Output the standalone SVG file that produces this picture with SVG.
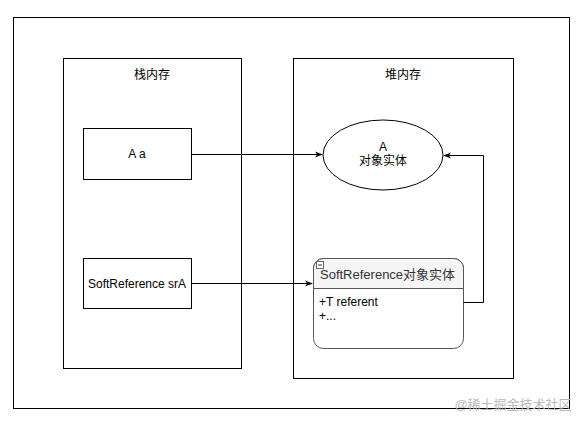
<svg xmlns="http://www.w3.org/2000/svg" width="583" height="425" viewBox="0 0 583 425">
<style>
.box{fill:#fff;stroke:#000;stroke-width:1}
.t{font-family:"Liberation Sans","Noto Sans CJK SC",Arial,sans-serif;font-size:12px;fill:#000}
.c{stroke:#000;stroke-width:1;fill:none}
</style>
<defs>
<marker id="ah" viewBox="0 0 10 10" refX="9" refY="5" markerWidth="8" markerHeight="8" orient="auto" markerUnits="userSpaceOnUse">
<path d="M0,1 L10,5 L0,9 L3,5 Z" fill="#000"/>
</marker>
</defs>
<rect width="583" height="425" fill="#fff"/>
<g id="outer"><rect class="box" x="13.5" y="17.5" width="556" height="391"/></g>
<g id="stack"><rect class="box" x="63.5" y="58.5" width="178" height="310"/><text class="t" x="152" y="79" text-anchor="middle">栈内存</text></g>
<g id="heap"><rect class="box" x="293.5" y="58.5" width="220" height="320"/><text class="t" x="403" y="79" text-anchor="middle">堆内存</text></g>
<g id="aa"><rect class="box" x="83.5" y="128.5" width="108" height="51"/><text class="t" x="137" y="158" text-anchor="middle">A a</text></g>
<g id="srA"><rect class="box" x="83.5" y="258.5" width="108" height="50"/><text class="t" x="137" y="288" text-anchor="middle">SoftReference srA</text></g>
<g id="aobj"><ellipse class="box" cx="383" cy="155" rx="60" ry="35"/><text class="t" x="383" y="151" text-anchor="middle">A</text><text class="t" x="383" y="165" text-anchor="middle">对象实体</text></g>
<g id="softobj">
<rect x="313.5" y="258.5" width="150" height="90" rx="10" ry="10" fill="#fff" stroke="#555"/>
<path d="M313.5,288.5 V268.5 A10,10 0 0 1 323.5,258.5 H453.5 A10,10 0 0 1 463.5,268.5 V288.5 Z" fill="#f5f5f5" stroke="#555"/>
<rect x="316.5" y="261.5" width="7" height="7" fill="#fff" stroke="#666"/>
<line x1="318" y1="265" x2="322" y2="265" stroke="#333"/>
<text class="t" x="320" y="279" style="font-size:13px;fill:#333">SoftReference对象实体</text>
<text class="t" x="319" y="306">+T referent</text>
<text class="t" x="319" y="320">+...</text>
</g>
<g id="connectors">
<path class="c" d="M191.5,154.5 H322" marker-end="url(#ah)"/>
<path class="c" d="M191.5,283.5 H312" marker-end="url(#ah)"/>
<path class="c" d="M463.5,302.5 H483.5 V155.5 H444" marker-end="url(#ah)"/>
</g>
<text x="513" y="409" text-anchor="middle" font-family="Liberation Sans,'Noto Sans CJK SC',sans-serif" font-size="13px" fill="#bbb">@稀土掘金技术社区</text>
</svg>
